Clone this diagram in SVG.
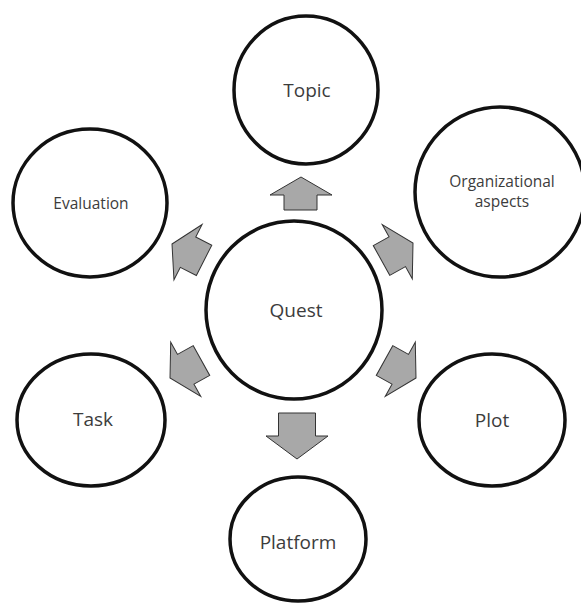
<svg xmlns="http://www.w3.org/2000/svg" width="581" height="604" viewBox="0 0 581 604">
  <style>
    .node ellipse { fill: #ffffff; stroke: #111111; stroke-width: 3.5; }
    .node text { font-family: "Open Sans", "Noto Sans", "DejaVu Sans", sans-serif; fill: #3c3c3c; text-anchor: middle; }
    .big { font-size: 19px; }
    .small { font-size: 15.5px; }
    .arrow { fill: #a8a8a8; stroke: #333333; stroke-width: 1; stroke-linejoin: miter; }
  </style>
  <defs>
    <polygon id="diagArrow" points="0,0 31,18 17,18 17,36 -17,36 -17,18 -31,18"/>
  </defs>
  <rect width="581" height="604" fill="#ffffff"/>

  <g id="connectors">
    <polygon class="arrow" points="301,177 332,195 317,195 317,210 284,210 284,195 270,195"/>
    <polygon class="arrow" points="297,459 328,436 315.5,436 315.5,413 278.5,413 278.5,436 266,436"/>
    <use href="#diagArrow" class="arrow" transform="translate(172,244) rotate(-63)"/>
    <use href="#diagArrow" class="arrow" transform="translate(413,243) rotate(61)"/>
    <use href="#diagArrow" class="arrow" transform="translate(170,378) rotate(-119)"/>
    <use href="#diagArrow" class="arrow" transform="translate(416,378) rotate(119)"/>
  </g>

  <g id="node-topic" class="node">
    <ellipse cx="306" cy="90" rx="72" ry="74"/>
    <text class="big" x="307" y="97">Topic</text>
  </g>
  <g id="node-organizational" class="node">
    <ellipse cx="500" cy="192" rx="85" ry="85"/>
    <text class="small" x="502" y="187">Organizational</text>
    <text class="small" x="502" y="207">aspects</text>
  </g>
  <g id="node-evaluation" class="node">
    <ellipse cx="90" cy="203" rx="77" ry="74"/>
    <text class="small" x="91" y="209">Evaluation</text>
  </g>
  <g id="node-quest" class="node">
    <ellipse cx="294" cy="310" rx="88" ry="89"/>
    <text class="big" x="296" y="317">Quest</text>
  </g>
  <g id="node-task" class="node">
    <ellipse cx="91" cy="420" rx="74" ry="66"/>
    <text class="big" x="93" y="426">Task</text>
  </g>
  <g id="node-plot" class="node">
    <ellipse cx="492" cy="420" rx="73" ry="66"/>
    <text class="big" x="492" y="427">Plot</text>
  </g>
  <g id="node-platform" class="node">
    <ellipse cx="298" cy="539" rx="68" ry="62"/>
    <text class="big" x="298" y="549">Platform</text>
  </g>
</svg>
